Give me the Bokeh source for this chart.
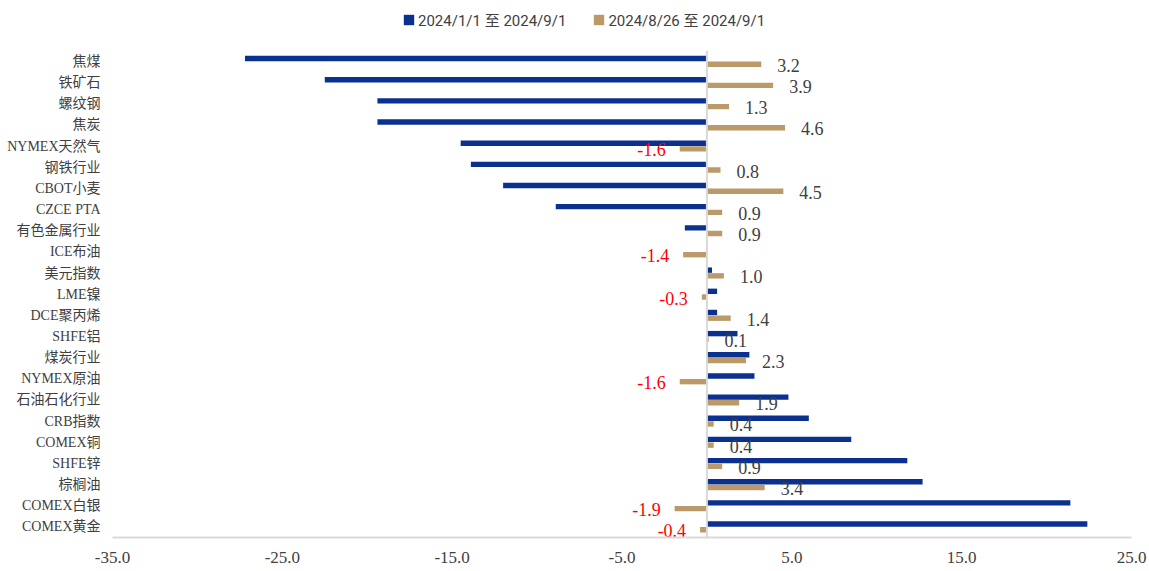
from bokeh.plotting import figure
from bokeh.models import (ColumnDataSource, Range1d, FixedTicker,
                          PrintfTickFormatter, Legend, LegendItem)
from bokeh.core.properties import value
from bokeh.embed import file_html
from bokeh.resources import INLINE

# ---------------- data ----------------
categories = ["焦煤", "铁矿石", "螺纹钢", "焦炭", "NYMEX天然气", "钢铁行业", "CBOT小麦",
              "CZCE PTA", "有色金属行业", "ICE布油", "美元指数", "LME镍", "DCE聚丙烯",
              "SHFE铝", "煤炭行业", "NYMEX原油", "石油石化行业", "CRB指数", "COMEX铜",
              "SHFE锌", "棕榈油", "COMEX白银", "COMEX黄金"]
ytd_change = [-27.2, -22.5, -19.4, -19.4, -14.5, -13.9, -12.0, -8.9, -1.3, 0.0, 0.3, 0.6,
              0.6, 1.8, 2.5, 2.8, 4.8, 6.0, 8.5, 11.8, 12.7, 21.4, 22.4]
week_change = [3.2, 3.9, 1.3, 4.6, -1.6, 0.8, 4.5, 0.9, 0.9, -1.4, 1.0, -0.3, 1.4, 0.1,
               2.3, -1.6, 1.9, 0.4, 0.4, 0.9, 3.4, -1.9, -0.4]
series_names = ["2024/1/1 至 2024/9/1", "2024/8/26 至 2024/9/1"]
x_ticks = [-35, -25, -15, -5, 5, 15, 25]

BLUE = "#0B3190"
TAN = "#BA9A68"
GRAY_TXT = "#404040"
SERIF = "Liberation Serif, Noto Sans CJK SC"
SANS = "Liberation Sans Narrow, Roboto, Noto Sans CJK SC"

n = len(categories)
OFF = 0.135   # half-offset of the two bars within a category slot
BH = 0.255    # bar thickness (category units)
ypos = [n - 1 - i for i in range(n)]          # first category at the top

src = ColumnDataSource(dict(cat=categories, y1=[y + OFF for y in ypos],
                            y2=[y - OFF for y in ypos], ytd=ytd_change, wk=week_change))
src_pos = ColumnDataSource(dict(
    y=[y - OFF for y, v in zip(ypos, week_change) if v >= 0],
    v=[v for v in week_change if v >= 0],
    t=["%.1f" % v for v in week_change if v >= 0]))
src_neg = ColumnDataSource(dict(
    y=[y - OFF for y, v in zip(ypos, week_change) if v < 0],
    v=[v for v in week_change if v < 0],
    t=["%.1f" % v for v in week_change if v < 0]))

W, H = 1149, 571
BOTTOM = 34
row_px = 21.16
frame_h = H - BOTTOM
y_top = -0.5 + frame_h / row_px        # extra room above the rows holds the legend

p = figure(width=W, height=H,
           y_range=Range1d(-0.5, y_top), x_range=Range1d(-35, 25),
           output_backend="svg", toolbar_location=None,
           min_border_left=112, min_border_right=18, min_border_top=0,
           min_border_bottom=BOTTOM)
p.outline_line_color = None
p.grid.visible = False
p.background_fill_color = "white"

r1 = p.hbar(y="y1", left=0, right="ytd", height=BH, source=src,
            fill_color=BLUE, line_color=None)
r2 = p.hbar(y="y2", left=0, right="wk", height=BH, source=src,
            fill_color=TAN, line_color=None)

# vertical zero axis line spanning the category rows
p.segment(x0=[0], y0=[-0.5], x1=[0], y1=[n - 0.5], line_color="#d9d9d9", line_width=2)

p.text(x="v", y="y", text="t", source=src_pos,
       x_offset=16, y_offset=1, text_align="left", text_baseline="middle",
       text_font=value(SERIF), text_font_size="18px", text_color=GRAY_TXT)
p.text(x="v", y="y", text="t", source=src_neg,
       x_offset=-14, y_offset=1, text_align="right", text_baseline="middle",
       text_font=value(SERIF), text_font_size="18px", text_color="#FF0000")

# axes
p.xaxis.ticker = FixedTicker(ticks=x_ticks)
p.xaxis.formatter = PrintfTickFormatter(format="%.1f")
p.xaxis.major_tick_line_color = None
p.xaxis.minor_tick_line_color = None
p.xaxis.major_tick_out = 0
p.xaxis.major_tick_in = 0
p.xaxis.axis_line_color = "#d9d9d9"
p.xaxis.axis_line_width = 2
p.xaxis.major_label_standoff = 14
p.xaxis.major_label_text_font = SERIF
p.xaxis.major_label_text_font_size = "17px"
p.xaxis.major_label_text_color = GRAY_TXT

p.yaxis.ticker = FixedTicker(ticks=ypos)
p.yaxis.major_label_overrides = {y: c for y, c in zip(ypos, categories)}
p.yaxis.axis_line_color = None
p.yaxis.major_tick_line_color = None
p.yaxis.minor_tick_line_color = None
p.yaxis.major_tick_out = 0
p.yaxis.major_tick_in = 0
p.yaxis.major_label_standoff = 12
p.yaxis.major_label_text_font = SERIF
p.yaxis.major_label_text_font_size = "14px"
p.yaxis.major_label_text_color = GRAY_TXT

legend = Legend(items=[LegendItem(label=series_names[0], renderers=[r1]),
                       LegendItem(label=series_names[1], renderers=[r2])],
                location=(290, frame_h - 30), orientation="horizontal",
                glyph_width=13, glyph_height=13, label_standoff=3, spacing=26,
                padding=0, margin=0, border_line_color=None, background_fill_alpha=0,
                label_text_font=SANS, label_text_font_size="15px", label_text_color=GRAY_TXT)
p.add_layout(legend)

open("out.html", "w").write(file_html(p, INLINE))
